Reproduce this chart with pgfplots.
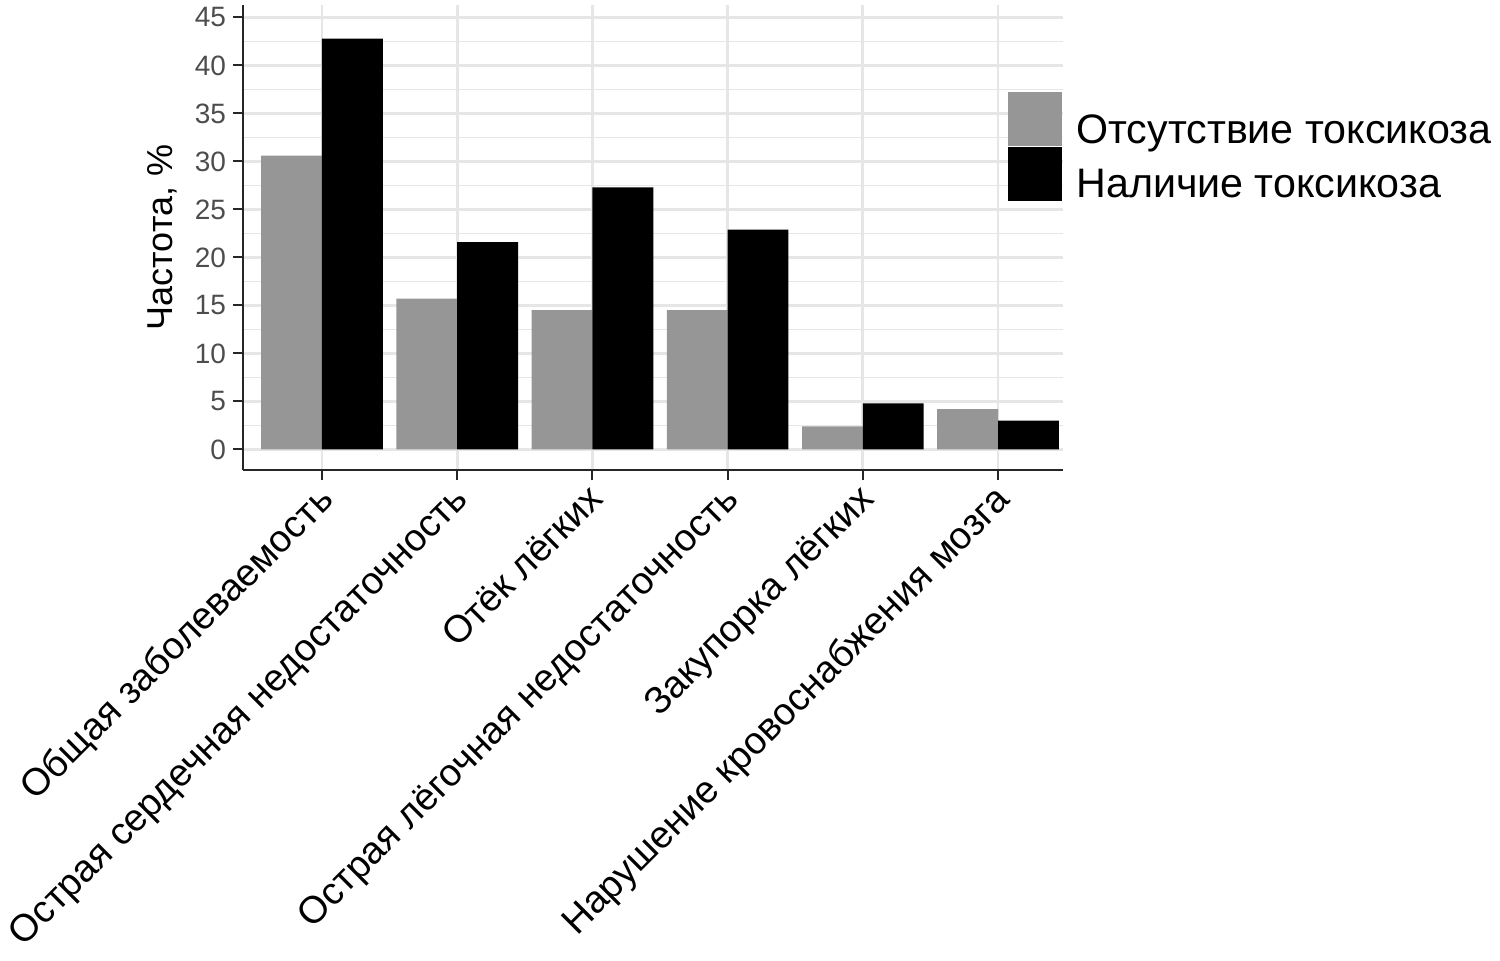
\documentclass[border=0pt]{standalone}
\usepackage{fontspec}
\setmainfont{Liberation Sans}
\usepackage{pgfplots}
\pgfplotsset{compat=1.18}
\definecolor{barGray}{HTML}{969696}
\definecolor{gridGray}{HTML}{E6E6E6}
\definecolor{tickGray}{HTML}{4D4D4D}
\begin{document}
\begin{tikzpicture}
\begin{axis}[
    name=ax,
    scale only axis,
    width=410pt, height=232.5pt,
    xmin=0.416, xmax=6.48,
    ymin=-2.15, ymax=46.3,
    axis x line*=bottom, axis y line*=left,
    axis line style={line width=1.3pt, black!85},
    xtick={1,...,6},
    xticklabels={Общая заболеваемость,
                 Острая сердечная недостаточность,
                 Отёк лёгких,
                 Острая лёгочная недостаточность,
                 Закупорка лёгких,
                 Нарушение кровоснабжения мозга},
    ytick={0,5,...,45},
    minor ytick={2.5,7.5,...,42.5},
    grid=both,
    major grid style={gridGray, line width=1.4pt},
    minor grid style={gridGray, line width=0.7pt},
    tick style={black!85, line width=1pt},
    tick align=outside,
    major tick length=5pt,
    minor tick length=0pt,
    /pgf/number format/assume math mode=true,
    yticklabel style={font=\fontsize{14}{16}\selectfont, text=tickGray},
    xticklabel style={xshift=-3pt, yshift=2pt, rotate=45, anchor=north east,
                      inner sep=2pt, font=\fontsize{19}{23}\selectfont},
    ylabel={Частота, \%},
    ylabel style={font=\fontsize{18}{20}\selectfont,
                  at={(axis description cs:-0.099,0.5)}, anchor=center},
    legend style={at={(0.933,0.813)}, anchor=north west, draw=none, fill=none,
                  inner sep=0pt, row sep=-1.5pt,
                  font=\fontsize{20.6}{24}\selectfont,
                  cells={anchor=west},
                  /tikz/every odd column/.append style={column sep=5pt}},
    legend image code/.code={\fill[#1] (0pt,-8pt) rectangle (27pt,19pt);},
]
\addplot[ybar, bar width=0.45, bar shift=-0.225, fill=barGray, draw=none]
    coordinates {(1,30.6) (2,15.7) (3,14.5) (4,14.5) (5,2.4) (6,4.2)};
\addplot[ybar, bar width=0.45, bar shift=0.225, fill=black, draw=none]
    coordinates {(1,42.8) (2,21.6) (3,27.3) (4,22.9) (5,4.8) (6,3.0)};
\legend{Отсутствие токсикоза, Наличие токсикоза}
\end{axis}
\pgfresetboundingbox
\path[use as bounding box] ([xshift=-121.5pt, yshift=-245pt]ax.south west) rectangle ++(750pt,480pt);
\end{tikzpicture}
\end{document}
